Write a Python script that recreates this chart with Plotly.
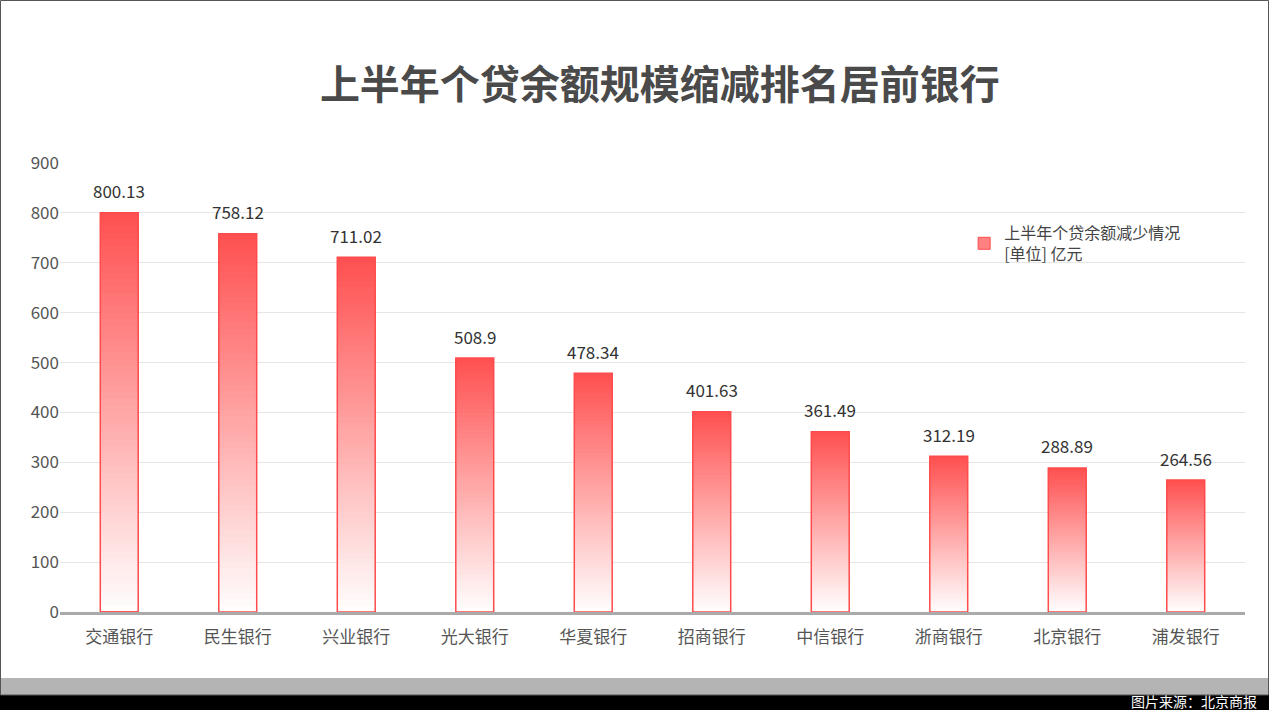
import plotly.graph_objects as go

banks = ["交通银行","民生银行","兴业银行","光大银行","华夏银行","招商银行","中信银行","浙商银行","北京银行","浦发银行"]
values = [800.13,758.12,711.02,508.9,478.34,401.63,361.49,312.19,288.89,264.56]
labels = ["800.13","758.12","711.02","508.9","478.34","401.63","361.49","312.19","288.89","264.56"]
yticks = [0,100,200,300,400,500,600,700,800,900]

fig = go.Figure()
N = 60
top = (255, 80, 80)
for k in range(N):
    t = (k + 0.5) / N
    c = tuple(int(255 + (top[i] - 255) * t) for i in range(3))
    base = [v * k / N for v in values]
    h = [min(v / N * 2.5, v - b) for v, b in zip(values, base)]
    fig.add_bar(x=banks, y=h, base=base,
                marker=dict(color="rgb(%d,%d,%d)" % c, line=dict(width=0)),
                width=0.32, showlegend=False, hoverinfo="skip")
fig.add_bar(x=banks, y=values, width=0.32, showlegend=False,
            marker=dict(color="rgba(0,0,0,0)", line=dict(color="#FF4B4B", width=1.5)))
fig.add_bar(x=[banks[0]], y=[0], name="上半年个贷余额减少情况<br>[单位] 亿元", width=0.32,
            marker=dict(color="#FF8080", line=dict(color="#FF4B4B", width=1)))

W, H = 1185, 449
annots = [dict(x=b, y=v, text=l, yshift=22, showarrow=False,
               font=dict(size=17, color="#333")) for b, v, l in zip(banks, values, labels)]
annots.append(dict(text="图片来源：北京商报", xref="paper", yref="paper", x=1 + 14 / W, xanchor="right",
                   y=-98 / H + 9 / H, yanchor="middle", showarrow=False,
                   font=dict(size=14, color="white")))

fig.update_layout(
    barmode="overlay", width=1269, height=710,
    paper_bgcolor="white", plot_bgcolor="white",
    margin=dict(l=60, r=24, t=163, b=98),
    font=dict(family="Noto Sans CJK SC", color="#555"),
    title=dict(text="<b>上半年个贷余额规模缩减排名居前银行</b>", x=0.52, xanchor="center",
               y=0.88, yanchor="middle", font=dict(size=40, color="#4a4a4a")),
    showlegend=True,
    legend=dict(x=0.763, y=0.882, xanchor="left", yanchor="top", bgcolor="rgba(0,0,0,0)",
                font=dict(size=16, color="#444"), itemwidth=30),
    xaxis=dict(tickfont=dict(size=17, color="#555"), showline=True, linecolor="#aaa",
               linewidth=3, ticks="", ticklabelstandoff=8),
    yaxis=dict(range=[0, 900], tickvals=yticks, tickfont=dict(size=17, color="#555"),
               gridcolor="#e6e6e6", zeroline=False, showline=False, ticks=""),
    shapes=[
        dict(type="rect", xref="paper", yref="paper", x0=-60 / W, x1=1 + 24 / W,
             y0=-98 / H + 15 / H, y1=-98 / H + 32 / H, fillcolor="#b4b4b4", line=dict(width=0), layer="below"),
        dict(type="rect", xref="paper", yref="paper", x0=-60 / W, x1=1 + 24 / W,
             y0=-98 / H, y1=-98 / H + 15 / H, fillcolor="#000", line=dict(width=0), layer="below"),
        dict(type="rect", xref="paper", yref="paper", x0=-59.5 / W, x1=1 + 23.5 / W,
             y0=-98 / H + 15 / H, y1=1 + 162.5 / H, line=dict(color="#555", width=1), layer="below"),
    ],
    annotations=annots,
)
fig.write_html("out.html", config={"displayModeBar": False},
               post_script="document.body.style.margin='0';document.body.style.overflow='hidden';")
